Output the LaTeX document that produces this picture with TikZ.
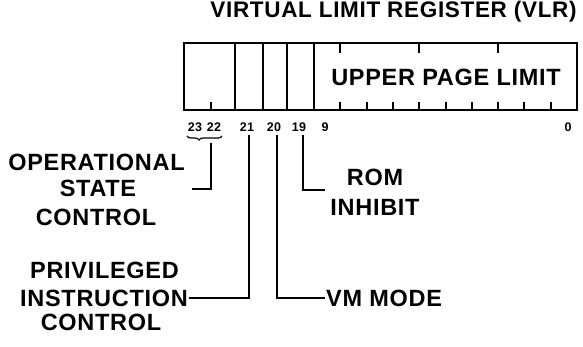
\documentclass[tikz,border=0pt]{standalone}
\usepackage{fontspec}
\setmainfont{Liberation Sans}
\newfontfamily\lblfont{Liberation Sans}[LetterSpace=3]
\usetikzlibrary{decorations.pathreplacing}
\tikzset{
  lbl/.style={font=\lblfont\bfseries\fontsize{23.5}{25}\selectfont, inner sep=0pt, anchor=center},
  ttl/.style={font=\lblfont\bfseries\fontsize{22.5}{24}\selectfont, inner sep=0pt, anchor=center},
  bitnum/.style={font=\lblfont\bfseries\fontsize{12.5}{13}\selectfont, inner sep=0pt, anchor=center},
  reg/.style={line width=1.9pt},
  tick/.style={line width=1.4pt},
  lead/.style={line width=1.5pt}
}
\begin{document}
\begin{tikzpicture}[x=1pt,y=-1pt]
\useasboundingbox (0,0) rectangle (583,346);
% title
\node[ttl] (title) at (393.5,12) {VIRTUAL LIMIT REGISTER (VLR)};
% register
\draw[reg] (184,43) rectangle (577,110);
\foreach \x in {235,263,287,314} \draw[reg] (\x,43) -- (\x,110);
\foreach \x in {211,340,367,393,419,446,472,498,524,551} \draw[tick] (\x,110) -- (\x,102);
\foreach \x in {340,419,498} \draw[tick] (\x,43) -- (\x,53);
\node[lbl] (upl) at (446,77) {UPPER PAGE LIMIT};
% bit numbers
\node[bitnum] (b23) at (195,127) {23};
\node[bitnum] (b22) at (214,127) {22};
\node[bitnum] (b21) at (247,127) {21};
\node[bitnum] (b20) at (274,127) {20};
\node[bitnum] (b19) at (299,127) {19};
\node[bitnum] (b9) at (325,127) {9};
\node[bitnum] (b0) at (568,127) {0};
% brace
\coordinate (brL) at (187,136);
\coordinate (brR) at (222,136);
\draw[line width=1.2pt, decorate, decoration={brace, amplitude=4pt, aspect=0.66}] (brR) -- (brL);
\coordinate (ostop) at (211,143);
\coordinate (osend) at (192,189);
\draw[lead] (ostop) |- (osend);
% labels
\node[lbl] (op1) at (96.5,162) {OPERATIONAL};
\node[lbl] (op2) at (98,188) {STATE};
\node[lbl] (op3) at (96,217) {CONTROL};
\node[lbl] (pr1) at (104.5,270) {PRIVILEGED};
\node[lbl] (pr2) at (104,298) {INSTRUCTION};
\node[lbl] (pr3) at (101,322) {CONTROL};
\node[lbl] (rom1) at (375,177) {ROM};
\node[lbl] (rom2) at (375,207) {INHIBIT};
\node[lbl, anchor=west] (vm) at (326,298) {VM MODE};
% leaders
\coordinate (t21) at (249,135);
\coordinate (t20) at (277,135);
\coordinate (t19) at (303,135);
\draw[lead] (t21) |- ([xshift=1pt]pr2.east);
\draw[lead] (t20) |- ([xshift=-1pt]vm.west);
\draw[lead] (t19) |- (325,190);
\end{tikzpicture}
\end{document}
